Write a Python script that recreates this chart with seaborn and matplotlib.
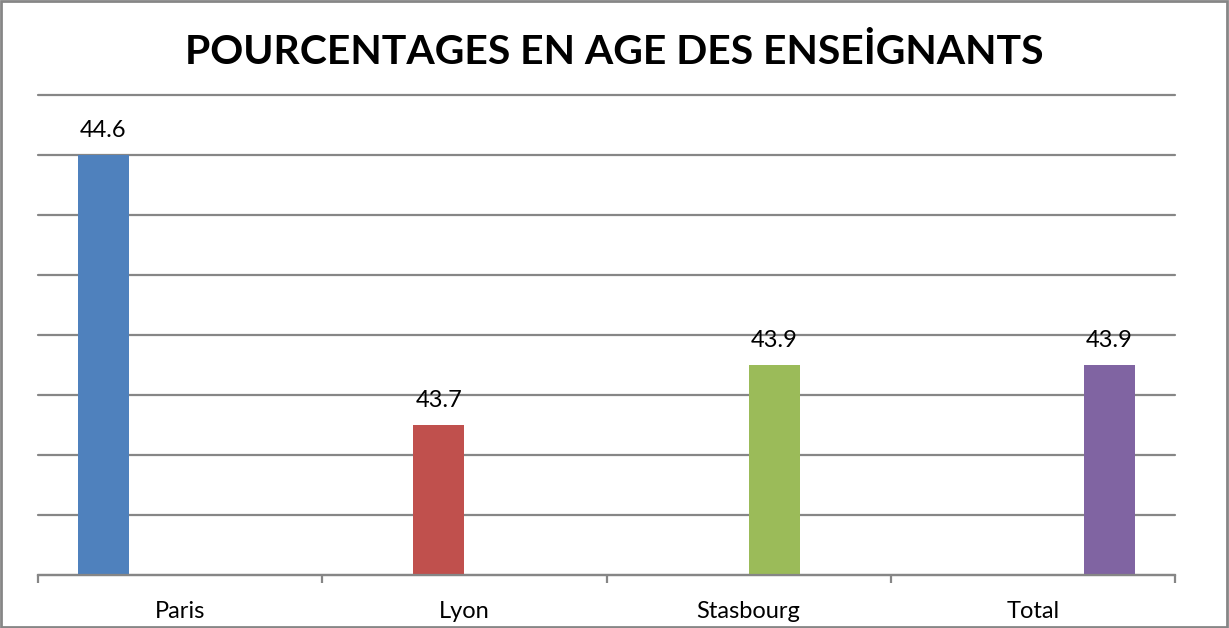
import numpy as np
import matplotlib
matplotlib.use("Agg")
import matplotlib.pyplot as plt
import seaborn as sns

villes = ["Paris", "Lyon", "Stasbourg", "Total"]
ages = [44.6, 43.7, 43.9, 43.9]
couleurs = ["#4F81BD", "#C0504D", "#9BBB59", "#8064A2"]

sns.set_style("white")
plt.rcParams["font.family"] = ["Lato", "DejaVu Sans"]
plt.rcParams["text.color"] = "black"
plt.rcParams["xtick.color"] = "black"

fig = plt.figure(figsize=(12.29, 6.28), dpi=100)
ax = fig.add_axes([38 / 1229, 1 - 575 / 628, (1175 - 38) / 1229, (575 - 95) / 628])

sns.barplot(x=villes, y=ages, hue=villes, order=villes, hue_order=villes,
            palette=couleurs, dodge=True, width=0.72, saturation=1,
            linewidth=0, legend=False, ax=ax)

for c in ax.containers:
    ax.bar_label(c, fmt="%.1f", padding=10, fontsize=17, color="black")

ax.set_ylim(43.2, 44.8)
ax.set_xlim(-0.5, 3.5)
ax.set_yticks(np.arange(43.2, 44.81, 0.2))
ax.set_yticklabels([])
ax.tick_params(axis="y", length=0)
ax.yaxis.grid(True, color="#868686", linewidth=1.6)
for gl in ax.get_ygridlines():
    gl.set_clip_on(False)
ax.set_axisbelow(True)

ax.set_xticks(range(len(villes)))
ax.set_xticklabels(villes, fontsize=17)
ax.set_xticks(np.arange(-0.5, 3.6, 1), minor=True)
ax.tick_params(axis="x", which="major", length=0, pad=19, bottom=True)
ax.tick_params(axis="x", which="minor", length=6, width=1.6, color="#868686",
               direction="out", bottom=True)
ax.set_xlabel("")
ax.set_ylabel("")

for s in ["left", "top", "right"]:
    ax.spines[s].set_visible(False)
ax.spines["bottom"].set_color("#868686")
ax.spines["bottom"].set_linewidth(1.6)

fig.text(0.5, 1 - 53 / 628, "POURCENTAGES EN AGE DES ENSEİGNANTS",
         ha="center", va="center", fontsize=29.4, fontweight="bold", color="black")

fig.add_artist(plt.Rectangle((0.001, 0.002), 0.997, 0.996, transform=fig.transFigure,
                             fill=False, edgecolor="#868686", linewidth=2))

fig.savefig("out.png", dpi=100)
